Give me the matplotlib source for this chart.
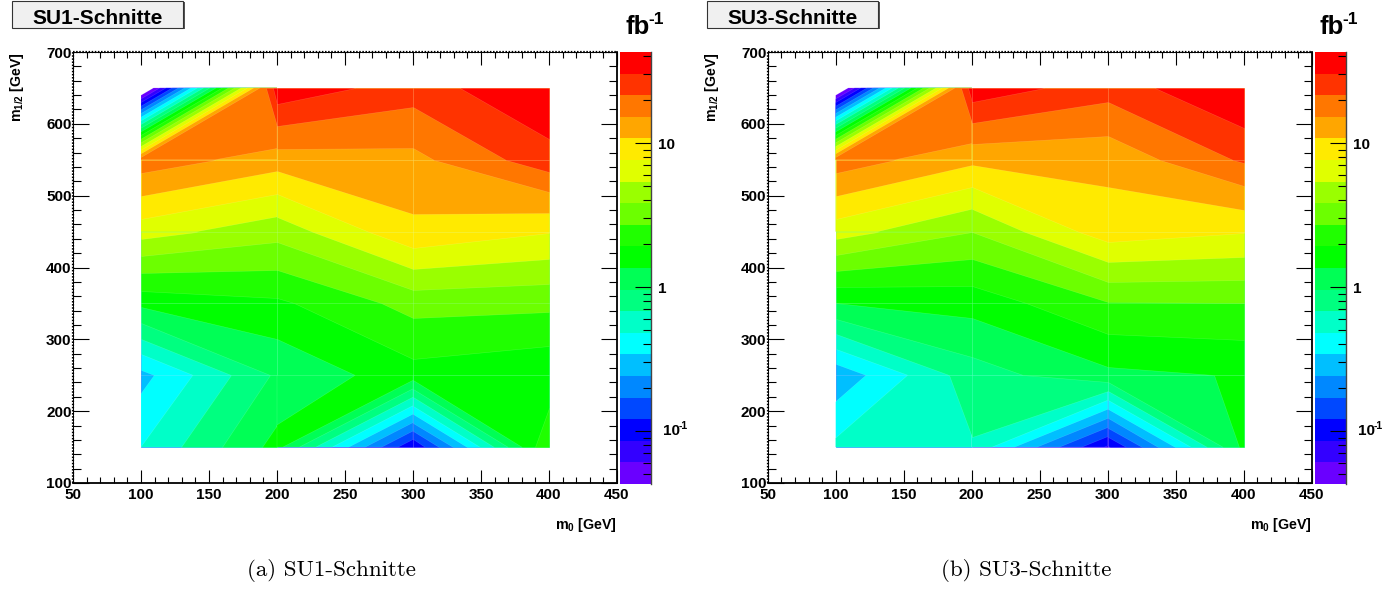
import numpy as np
import matplotlib
matplotlib.use("Agg")
import matplotlib.pyplot as plt
from matplotlib.collections import PolyCollection
from matplotlib.colors import BoundaryNorm, ListedColormap
from matplotlib.patches import Rectangle
from matplotlib.ticker import FixedLocator, LogLocator, MultipleLocator, NullFormatter

plt.rcParams["font.family"] = ["Liberation Sans", "DejaVu Sans"]
plt.rcParams["font.weight"] = "bold"
plt.rcParams["mathtext.fontset"] = "custom"
plt.rcParams["mathtext.bf"] = "Liberation Sans:bold"
plt.rcParams["mathtext.rm"] = "Liberation Sans:bold"
plt.rcParams["mathtext.default"] = "bf"

# grid of the scan
m0 = [100, 200, 300, 400]
m12 = [150, 250, 350, 450, 550, 650]

# luminosity in fb^-1, one row per m1/2 value
su1 = [
    [0.481, 1.535, 0.0885, 2.704],
    [0.3017, 1.024, 1.667, 1.422],
    [1.477, 1.793, 3.073, 2.938],
    [6.30, 4.325, 9.98, 7.78],
    [18.7, 12.79, 13.71, 26.42],
    [0.0215, 38.6, 25.3, 42.9],
]
su3 = [
    [0.5242, 0.6585, 0.0812, 1.498],
    [0.2645, 0.8185, 1.243, 1.388],
    [1.355, 1.535, 2.657, 2.685],
    [6.30, 3.819, 9.15, 7.83],
    [18.7, 11.65, 11.90, 22.54],
    [0.0215, 37.98, 24.83, 44.2],
]
titles = ["SU1-Schnitte", "SU3-Schnitte"]
captions = ["(a) SU1-Schnitte", "(b) SU3-Schnitte"]

# palette bottom to top, 20 bands over three decades
band_colors = [
    "#6a00ff", "#3300ff", "#0000ff", "#0048ff", "#0088ff",
    "#00bfff", "#00ffff", "#00ffc8", "#00ff80", "#00ff55",
    "#00ff00", "#20ff00", "#6cff00", "#9aff00", "#e0ff00",
    "#ffea00", "#ffa600", "#ff7700", "#ff3300", "#ff0000",
]
log_levels = -1.368 + 0.15 * np.arange(21)

W, H = 1383, 590


def px_axes(fig, left, right, top, bottom):
    return fig.add_axes([left / W, 1 - bottom / H, (right - left) / W, (bottom - top) / H])


def cell_polygons(x, y, logz, level):
    # region above the level in each cell, high corners stay joined
    polys = []
    for j in range(len(y) - 1):
        for i in range(len(x) - 1):
            cx = [x[i], x[i + 1], x[i + 1], x[i]]
            cy = [y[j], y[j], y[j + 1], y[j + 1]]
            cz = [logz[j, i], logz[j, i + 1], logz[j + 1, i + 1], logz[j + 1, i]]
            pts = []
            for a in range(4):
                b = (a + 1) % 4
                if cz[a] >= level:
                    pts.append((cx[a], cy[a]))
                if (cz[a] >= level) != (cz[b] >= level):
                    t = (level - cz[a]) / (cz[b] - cz[a])
                    pts.append((cx[a] + t * (cx[b] - cx[a]), cy[a] + t * (cy[b] - cy[a])))
            if pts:
                polys.append(pts)
    return polys


def draw_panel(fig, offset, values, title, caption):
    ax = px_axes(fig, offset + 73, offset + 617, 52, 483)
    logz = np.log10(np.array(values))
    for level, color in zip(log_levels[:-1], band_colors):
        polys = cell_polygons(m0, m12, logz, level)
        ax.add_collection(PolyCollection(polys, facecolors=color,
                                         edgecolors=(1, 1, 1, 0.18), linewidths=0.4))
    ax.set_xlim(50, 450)
    ax.set_ylim(100, 700)

    ax.xaxis.set_major_locator(MultipleLocator(50))
    ax.xaxis.set_minor_locator(MultipleLocator(10))
    ax.yaxis.set_major_locator(MultipleLocator(100))
    ax.yaxis.set_minor_locator(MultipleLocator(20))
    ax.tick_params(axis="x", which="major", direction="in", top=True, length=9.5, width=0.8,
                   labelsize=11, pad=3.5)
    ax.tick_params(axis="x", which="minor", direction="in", top=True, length=4.5, width=0.8)
    ax.tick_params(axis="y", which="major", direction="in", right=True, length=11.5, width=0.8,
                   labelsize=11, pad=1)
    ax.tick_params(axis="y", which="minor", direction="in", right=True, length=5.8, width=0.8)
    ax.spines["bottom"].set_linewidth(1.3)
    ax.spines["right"].set_linewidth(1.3)
    ax.spines["top"].set_linewidth(0.7)
    ax.spines["left"].set_linewidth(0.7)
    # top and left edge look dotted in the original
    ax.plot([0, 1], [1, 1], transform=ax.transAxes, color="black", lw=1.6,
            ls=(0, (0.7, 0.7)), clip_on=False)
    ax.plot([0, 0], [0, 1], transform=ax.transAxes, color="black", lw=1.6,
            ls=(0, (0.7, 0.7)), clip_on=False)

    fig.text((offset + 617) / W, 1 - 525 / H, r"$\mathbf{m_0}$ [GeV]", ha="right", va="center",
             fontsize=10.3, fontweight="bold")
    fig.text((offset + 17) / W, 1 - 52 / H, r"$\mathbf{m_{1/2}}$ [GeV]", ha="center", va="top",
             rotation=90, fontsize=10.2, fontweight="bold")

    # colour scale
    cax = px_axes(fig, offset + 620, offset + 651, 52, 484)
    edges = 10.0 ** log_levels
    cmap = ListedColormap(band_colors)
    cax.pcolormesh([0, 1], edges, np.arange(20).reshape(-1, 1), cmap=cmap,
                   norm=BoundaryNorm(np.arange(21) - 0.5, 20), rasterized=True)
    cax.set_yscale("log")
    cax.set_ylim(edges[0], edges[-1])
    cax.set_xticks([])
    for side in ["top", "bottom", "left"]:
        cax.spines[side].set_visible(False)
    cax.spines["right"].set_color("#444444")
    cax.spines["right"].set_linewidth(1.0)
    cax.yaxis.tick_right()
    cax.yaxis.set_major_locator(FixedLocator([0.1, 1, 10]))
    cax.yaxis.set_minor_locator(LogLocator(base=10, subs=np.arange(2, 10), numticks=12))
    cax.yaxis.set_minor_formatter(NullFormatter())
    cax.set_yticklabels(["", "1", "10"])
    cax.tick_params(axis="y", which="major", direction="in", length=11.5, width=0.8,
                    labelsize=11, pad=5)
    cax.tick_params(axis="y", which="minor", direction="in", length=5.8, width=0.8)
    # 10^-1 label is shifted right a bit and uses a plain hyphen
    tr = cax.get_yaxis_transform()
    cax.text(43 / 31, 0.1, "10", transform=tr, ha="left", va="center", fontsize=11)
    cax.text(59 / 31, 0.108, "-1", transform=tr, ha="left", va="center", fontsize=7.5)

    fig.text((offset + 625) / W, 1 - 27 / H, "fb", ha="left", va="center", fontsize=18.5,
             fontweight="bold")
    fig.text((offset + 648) / W, 1 - 19 / H, "-1", ha="left", va="center", fontsize=12.5,
             fontweight="bold")

    # title box with shadow
    fig.add_artist(Rectangle(((offset + 13) / W, 1 - 29 / H), 172 / W, 27 / H,
                             transform=fig.transFigure, facecolor="#555555", edgecolor="none"))
    fig.add_artist(Rectangle(((offset + 12) / W, 1 - 27.5 / H), 171 / W, 26.5 / H,
                             transform=fig.transFigure, facecolor="#f0f0f0", edgecolor="#333333",
                             linewidth=0.8))
    fig.text((offset + 98) / W, 1 - 18 / H, title, ha="center", va="center", fontsize=15,
             fontweight="bold")

    fig.text((offset + 331.5) / W, 1 - 571 / H, caption, ha="center", va="center",
             fontsize=16.6, family="cmr10", fontweight="normal")


fig = plt.figure(figsize=(W / 100, H / 100), dpi=100)
draw_panel(fig, 0, su1, titles[0], captions[0])
draw_panel(fig, 694.7, su3, titles[1], captions[1])
fig.savefig("out.png", dpi=100)
